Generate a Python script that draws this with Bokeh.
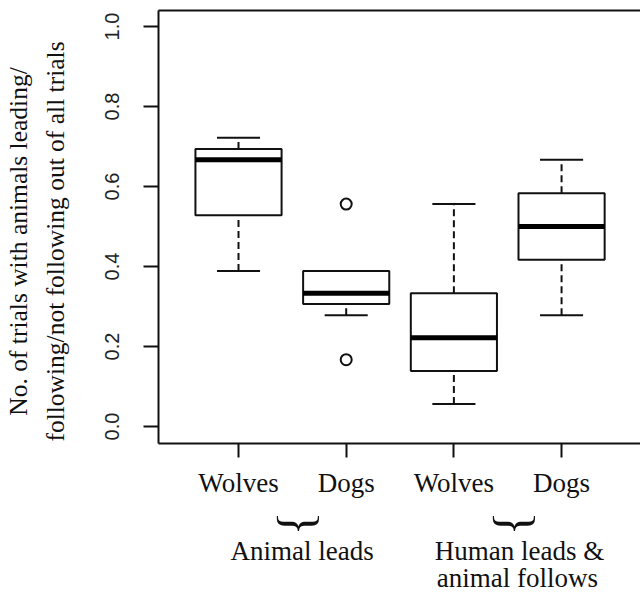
import numpy as np
from bokeh.plotting import figure
from bokeh.models import Range1d, FixedTicker, LinearAxis
from bokeh.embed import file_html
from bokeh.resources import INLINE

# ---- data ----
positions = [1, 2, 3, 4]
species = ["Wolves", "Dogs", "Wolves", "Dogs"]
lower_whisker = [0.389, 0.278, 0.056, 0.278]
q1 = [0.528, 0.306, 0.139, 0.417]
median = [0.667, 0.333, 0.222, 0.500]
q3 = [0.694, 0.389, 0.333, 0.583]
upper_whisker = [0.722, 0.389, 0.556, 0.667]
outlier_pos = [2, 2]
outlier_val = [0.556, 0.167]
y_ticks = [0.0, 0.2, 0.4, 0.6, 0.8, 1.0]
y_tick_labels = ["0.0", "0.2", "0.4", "0.6", "0.8", "1.0"]
group_line1 = ["Animal leads", "Human leads &"]
group_line1_at = [1.59, 3.61]
group_line2 = ["animal follows"]
group_line2_at = [3.59]
brace_at = [1.58, 3.59]
y_title = ["No. of trials with animals leading/",
           "following/not following out of all trials"]
y_title_at = 0.4625

INK = "#111111"
SERIF = "Liberation Serif"
SANS = "Liberation Sans"

pos = np.array(positions, dtype=float)
boxw = 0.8
capw = 0.4

p = figure(frame_width=482, frame_height=433, output_backend="svg",
           toolbar_location=None,
           x_range=Range1d(0.257, 4.733), y_range=Range1d(-0.0425, 1.04),
           min_border_left=157, min_border_right=0, min_border_top=10,
           min_border_bottom=0, outline_line_color=None)
p.xgrid.visible = False
p.ygrid.visible = False
p.background_fill_color = "white"
p.border_fill_color = "white"


def text_axis(ticks, labels, font, size, standoff, orientation="horizontal"):
    ax = LinearAxis(ticker=FixedTicker(ticks=ticks),
                    major_label_overrides={t: l for t, l in zip(ticks, labels)},
                    axis_line_color=None, major_tick_line_color=None,
                    minor_tick_line_color=None, major_tick_out=0, major_tick_in=0,
                    minor_tick_out=0, minor_tick_in=0,
                    major_label_text_font=font,
                    major_label_text_font_size=size,
                    major_label_text_color="#111111",
                    major_label_standoff=standoff,
                    major_label_orientation=orientation)
    return ax


# top border via an empty axis above
top_ax = LinearAxis(ticker=FixedTicker(ticks=[]), axis_line_width=2,
                    axis_line_color=INK, major_tick_line_color=None,
                    minor_tick_line_color=None, major_tick_out=0,
                    major_tick_in=0, minor_tick_out=0, minor_tick_in=0,
                    major_label_standoff=0)
p.add_layout(top_ax, "above")

# y axis
ya = p.left[0]
ya.ticker = FixedTicker(ticks=y_ticks)
ya.major_label_overrides = {t: l for t, l in zip(y_ticks, y_tick_labels)}
ya.major_label_orientation = "vertical"
ya.major_label_text_font = SANS
ya.major_label_text_font_size = "20px"
ya.major_label_text_color = "#222222"
ya.major_tick_out = 15
ya.major_tick_in = 0
ya.minor_tick_line_color = None
ya.minor_tick_out = 0
ya.major_tick_line_width = 2
ya.major_tick_line_color = INK
ya.axis_line_width = 2
ya.axis_line_color = INK
ya.major_label_standoff = 25

# y title, two lines, as text-only axes stacked outward
p.add_layout(text_axis([y_title_at], [y_title[1]], SERIF, "25.5px", 32, "vertical"), "left")
p.add_layout(text_axis([y_title_at], [y_title[0]], SERIF, "25.5px", 5, "vertical"), "left")

# x axis
xa = p.below[0]
xa.ticker = FixedTicker(ticks=positions)
xa.major_label_overrides = {t: s for t, s in zip(positions, species)}
xa.major_label_text_font = SERIF
xa.major_label_text_font_size = "27px"
xa.major_label_text_color = "#111111"
xa.major_tick_out = 14
xa.major_tick_in = 0
xa.minor_tick_line_color = None
xa.minor_tick_out = 0
xa.major_tick_line_width = 2
xa.major_tick_line_color = INK
xa.axis_line_width = 2
xa.axis_line_color = INK
xa.major_label_standoff = 10

# braces and group labels as text-only axes below
p.add_layout(text_axis(brace_at, ["}"] * len(brace_at), SERIF, "50px", 11, -np.pi / 2), "below")
p.add_layout(text_axis(group_line1_at, group_line1, SERIF, "27px", -3), "below")
p.add_layout(text_axis(group_line2_at, group_line2, SERIF, "27px", -6), "below")

# whiskers (dashed)
p.segment(x0=pos, x1=pos, y0=q3, y1=upper_whisker, line_color=INK,
          line_width=2, line_dash="7 4")
p.segment(x0=pos, x1=pos, y0=lower_whisker, y1=q1, line_color=INK,
          line_width=2, line_dash="7 4")
# caps
p.segment(x0=pos - capw / 2, x1=pos + capw / 2, y0=upper_whisker,
          y1=upper_whisker, line_color=INK, line_width=2)
p.segment(x0=pos - capw / 2, x1=pos + capw / 2, y0=lower_whisker,
          y1=lower_whisker, line_color=INK, line_width=2)
# boxes
p.vbar(x=pos, width=boxw, top=q3, bottom=q1, fill_color="white",
       line_color=INK, line_width=2)
# medians
p.segment(x0=pos - boxw / 2, x1=pos + boxw / 2, y0=median, y1=median,
          line_color="black", line_width=5)
# outliers
p.scatter(x=outlier_pos, y=outlier_val, marker="circle", size=11,
          fill_color="white", line_color=INK, line_width=2)

open("out.html", "w").write(file_html(p, INLINE))
